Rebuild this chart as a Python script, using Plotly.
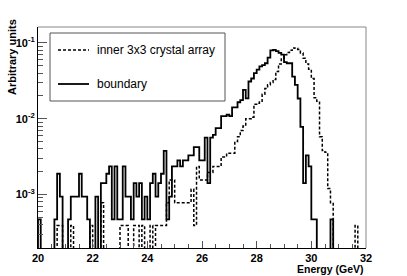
import numpy as np
import plotly.graph_objects as go

# ---------------- data ----------------
energy_edges = np.linspace(20.0, 32.0, 121)   # 120 bins of 0.1 GeV

boundary = [
    4.7e-4, 0, 0, 0, 0, 0, 4.7e-4, 1.88e-3, 9.4e-4, 0,
    0, 4.7e-4, 9.4e-4, 9.4e-4, 9.4e-4, 1.88e-3, 9.4e-4, 9.4e-4, 4.7e-4, 0,
    0, 9.4e-4, 0, 1.41e-3, 1.41e-3, 1.88e-3, 2.35e-3, 4.7e-4, 2.35e-3, 4.7e-4,
    4.7e-4, 2.35e-3, 9.4e-4, 9.4e-4, 4.7e-4, 1.41e-3, 9.4e-4, 1.41e-3, 4.7e-4, 9.4e-4,
    4.7e-4, 1.41e-3, 1.88e-3, 9.4e-4, 1.41e-3, 1.88e-3, 3.76e-3, 4.7e-4, 9.4e-4, 2.35e-3,
    2.35e-3, 2.82e-3, 2.35e-3, 2.82e-3, 2.82e-3, 3.29e-3, 3.29e-3, 4.23e-3, 4.23e-3, 2.82e-3,
    2.82e-3, 5.64e-3, 1.41e-3, 5.64e-3, 6.11e-3, 7.52e-3, 7.52e-3, 1.08e-2, 1.08e-2, 1.13e-2,
    1.08e-2, 1.41e-2, 1.41e-2, 1.65e-2, 1.76e-2, 2.4e-2, 1.86e-2, 3.1e-2, 3.4e-2, 4.0e-2,
    4.46e-2, 4.9e-2, 5.1e-2, 5.4e-2, 6.4e-2, 8.0e-2, 8.1e-2, 7.8e-2, 7.4e-2, 7.0e-2,
    5.6e-2, 5.4e-2, 5.4e-2, 3.6e-2, 2.8e-2, 1.85e-2, 7.8e-3, 1.41e-3, 3.29e-3, 2.35e-3,
    4.7e-4, 4.7e-4, 0, 0, 0, 0, 0, 4.7e-4, 0, 0,
    0, 0, 0, 0, 0, 0, 0, 0, 0, 0,
]

inner_3x3 = [
    0, 0, 0, 0, 0, 0, 0, 3.9e-4, 3.9e-4, 0,
    0, 0, 3.9e-4, 0, 0, 0, 0, 0, 0, 3.9e-4,
    0, 0, 0, 7.8e-4, 0, 0, 0, 0, 0, 0,
    3.9e-4, 3.9e-4, 3.9e-4, 0, 0, 3.9e-4, 3.9e-4, 0, 3.9e-4, 0,
    0, 3.9e-4, 0, 3.9e-4, 3.9e-4, 3.9e-4, 3.9e-4, 7.8e-4, 1.56e-3, 1.56e-3,
    7.8e-4, 7.8e-4, 7.8e-4, 7.8e-4, 7.8e-4, 7.8e-4, 1.17e-3, 3.9e-4, 2.34e-3, 1.56e-3,
    1.56e-3, 1.56e-3, 1.95e-3, 1.95e-3, 2.34e-3, 2.34e-3, 2.34e-3, 3.12e-3, 3.12e-3, 3.51e-3,
    3.51e-3, 3.51e-3, 5.0e-3, 5.8e-3, 7.0e-3, 8.0e-3, 1.0e-2, 1.0e-2, 1.05e-2, 1.55e-2,
    1.6e-2, 1.7e-2, 2.1e-2, 2.5e-2, 2.8e-2, 3.0e-2, 3.3e-2, 4.2e-2, 5.3e-2, 6.3e-2,
    7.0e-2, 7.5e-2, 8.0e-2, 8.6e-2, 8.5e-2, 8.2e-2, 7.4e-2, 6.3e-2, 5.3e-2, 4.5e-2,
    3.4e-2, 1.9e-2, 1.7e-2, 5.8e-3, 3.8e-3, 3.6e-3, 1.2e-3, 7.8e-4, 0, 0,
    0, 0, 0, 0, 0, 0, 3.9e-4, 0, 0, 0,
]

series_names = ["inner 3x3 crystal array", "boundary"]
x_tick_vals = [20, 22, 24, 26, 28, 30, 32]
y_tick_vals = [1e-3, 1e-2, 1e-1]
y_tick_text = ["10<sup>-3</sup>", "10<sup>-2</sup>", "10<sup>-1</sup>"]

# ---------------- figure ----------------
W, H = 407, 276
L, R, T, B = 38, 41, 27, 28
FONT = "Liberation Sans"
FLOOR = 1e-6  # empty bins are drawn down to (below) the axis, as ROOT does


def step_xy(vals):
    y = [v if v > 0 else FLOOR for v in vals]
    xs = [energy_edges[0]] + list(energy_edges) + [energy_edges[-1]]
    ys = [FLOOR] + y + [y[-1], FLOOR]
    return xs, ys


fig = go.Figure()
xs, ys = step_xy(inner_3x3)
fig.add_trace(go.Scatter(x=xs, y=ys, mode="lines", line_shape="hv",
                         name=series_names[0],
                         line=dict(color="black", width=1.5, dash="3px,2px")))
xs, ys = step_xy(boundary)
fig.add_trace(go.Scatter(x=xs, y=ys, mode="lines", line_shape="hv",
                         name=series_names[1],
                         line=dict(color="black", width=1.8)))

y_minor = [m * 10.0 ** e for e in (-4, -3, -2) for m in range(2, 10)]


def px2paper(px, py):
    return (px - L) / (W - L - R), (H - B - py) / (H - T - B)


fig.update_layout(
    width=W, height=H,
    margin=dict(l=L, r=R, t=T, b=B, autoexpand=False),
    paper_bgcolor="white", plot_bgcolor="white",
    showlegend=False,
    xaxis=dict(range=[20, 32], showgrid=False, zeroline=False,
               showline=True, linecolor="black", linewidth=1,
               ticks="inside", ticklen=7, tickcolor="#555", tickwidth=1,
               tickvals=x_tick_vals,
               tickfont=dict(family=FONT, size=11, color="black", weight="bold"),
               minor=dict(ticks="inside", ticklen=4, tickcolor="#555",
                          dtick=0.5, tick0=20, showgrid=False)),
    yaxis=dict(type="log", range=[-3.706, -0.789], showgrid=False, zeroline=False,
               showline=True, linecolor="black", linewidth=1,
               ticks="inside", ticklen=9, tickcolor="#555", tickwidth=1,
               tickvals=y_tick_vals, ticktext=y_tick_text,
               tickfont=dict(family=FONT, size=11, color="black", weight="bold"),
               minor=dict(ticks="inside", ticklen=5, tickcolor="#555",
                          tickvals=y_minor, showgrid=False)),
)

shapes = []
# top and right frame lines (lighter)
shapes.append(dict(type="line", xref="paper", yref="paper", x0=0, x1=1, y0=1, y1=1,
                   line=dict(color="#888", width=1)))
shapes.append(dict(type="line", xref="paper", yref="paper", x0=1, x1=1, y0=0, y1=1,
                   line=dict(color="#888", width=1)))
# legend box
bx0, by0 = px2paper(50, 101)
bx1, by1 = px2paper(225, 33)
shapes.append(dict(type="rect", xref="paper", yref="paper", x0=bx0, x1=bx1, y0=by0, y1=by1,
                   fillcolor="white", line=dict(color="#555", width=1), layer="above"))
# legend samples
for name, py, dash, w in [(series_names[0], 50, "3px,2px", 1.5),
                          (series_names[1], 84, "solid", 1.8)]:
    sx0, sy = px2paper(58, py)
    sx1, _ = px2paper(89, py)
    shapes.append(dict(type="line", xref="paper", yref="paper", x0=sx0, x1=sx1, y0=sy, y1=sy,
                       line=dict(color="black", width=w, dash=dash), layer="above"))
fig.update_layout(shapes=shapes)

annotations = []
for name, py in [(series_names[0], 50), (series_names[1], 84)]:
    tx, ty = px2paper(95, py)
    annotations.append(dict(text=name, xref="paper", yref="paper", x=tx, y=ty,
                            xanchor="left", yanchor="middle", showarrow=False,
                            font=dict(family=FONT, size=12, color="black")))
ax_x, ax_y = px2paper(12, 57)
annotations.append(dict(text="Arbitrary units", xref="paper", yref="paper",
                        x=ax_x, y=ax_y, xanchor="center", yanchor="middle", textangle=-90,
                        showarrow=False,
                        font=dict(family=FONT, size=11, color="black", weight="bold")))
_, ex_y = px2paper(0, 268.5)
annotations.append(dict(text="Energy (GeV)", xref="paper", yref="paper",
                        x=1, y=ex_y, xanchor="right", yanchor="middle",
                        showarrow=False,
                        font=dict(family=FONT, size=10.5, color="black", weight="bold")))
fig.update_layout(annotations=annotations)

fig.write_html("out.html",
               config={"displayModeBar": False},
               post_script="document.body.style.margin='0';document.body.style.padding='0';")
